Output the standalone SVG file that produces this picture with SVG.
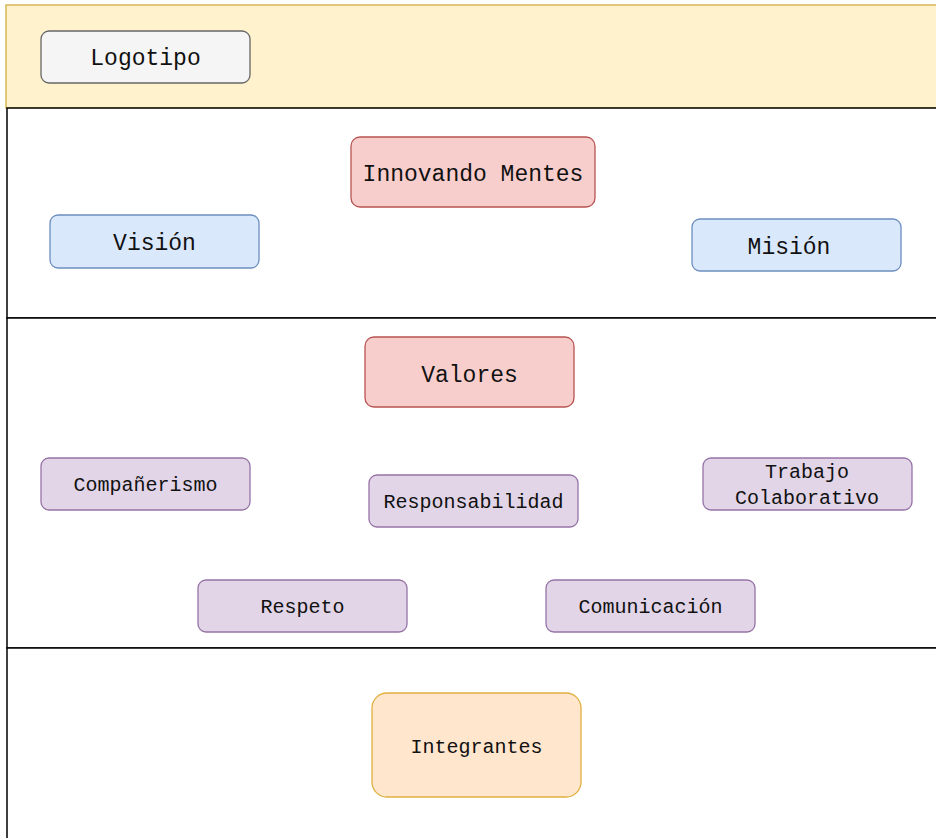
<svg xmlns="http://www.w3.org/2000/svg" width="936" height="838" viewBox="0 0 936 838">
<style>
.band{stroke:#000;stroke-width:1.5;fill:#fff}
.n{stroke-width:1.3}
.gray{fill:#f5f5f5;stroke:#666}
.red{fill:#f8cecc;stroke:#b85450}
.blue{fill:#dae8fc;stroke:#6c8ebf}
.purple{fill:#e1d5e7;stroke:#9673a6}
.orange{fill:#ffe6cc;stroke:#e0b040}
text{font-family:"Liberation Mono","DejaVu Sans Mono",monospace;fill:#111;text-anchor:middle}
.big{font-size:23px}
.sm{font-size:20px}
</style>
<g id="sections">
<rect x="6" y="5" width="960" height="103" fill="#fff2cc" stroke="#d6b656" stroke-width="1.5"/>
<rect class="band" x="7" y="108" width="960" height="210"/>
<rect class="band" x="7" y="318" width="960" height="330"/>
<rect class="band" x="7" y="648" width="960" height="220"/>
</g>
<g id="connectors"></g>
<g id="logotipo"><rect class="n gray" x="41" y="31" width="209" height="52" rx="8"/><text class="big" x="145.5" y="65">Logotipo</text></g>
<g id="innovando"><rect class="n red" x="351" y="137" width="244" height="70" rx="9"/><text class="big" x="473" y="181">Innovando Mentes</text></g>
<g id="vision"><rect class="n blue" x="50" y="215" width="209" height="53" rx="8"/><text class="big" x="154.5" y="250">Visión</text></g>
<g id="mision"><rect class="n blue" x="692" y="219" width="209" height="52" rx="8"/><text class="big" x="789" y="254">Misión</text></g>
<g id="valores"><rect class="n red" x="365" y="337" width="209" height="70" rx="9"/><text class="big" x="469.5" y="382">Valores</text></g>
<g id="companerismo"><rect class="n purple" x="41" y="458" width="209" height="52" rx="8"/><text class="sm" x="145.5" y="491">Compañerismo</text></g>
<g id="responsabilidad"><rect class="n purple" x="369" y="475" width="209" height="52" rx="8"/><text class="sm" x="473.5" y="508">Responsabilidad</text></g>
<g id="trabajo"><rect class="n purple" x="703" y="458" width="209" height="52" rx="8"/><text class="sm" x="807" y="478">Trabajo</text><text class="sm" x="807" y="504">Colaborativo</text></g>
<g id="respeto"><rect class="n purple" x="198" y="580" width="209" height="52" rx="8"/><text class="sm" x="302.5" y="613">Respeto</text></g>
<g id="comunicacion"><rect class="n purple" x="546" y="580" width="209" height="52" rx="8"/><text class="sm" x="650.5" y="613">Comunicación</text></g>
<g id="integrantes"><rect class="n orange" x="372" y="693" width="209" height="104" rx="15"/><text class="sm" x="476.5" y="753">Integrantes</text></g>
</svg>
